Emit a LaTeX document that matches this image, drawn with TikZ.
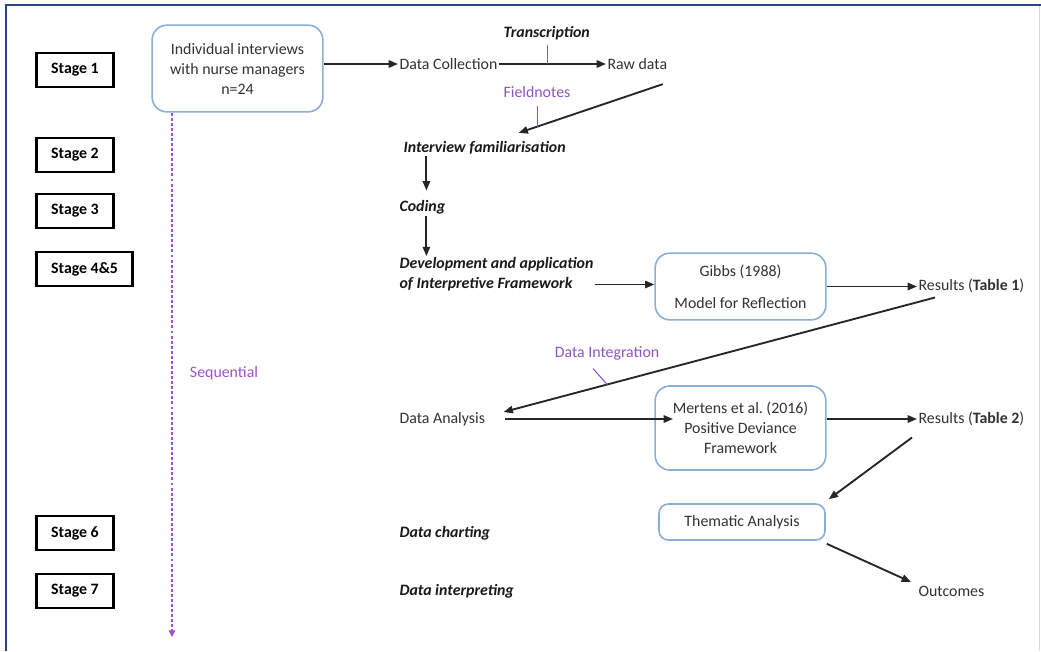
\documentclass[tikz,border=0pt]{standalone}
\usepackage{fontspec}
\setmainfont{Carlito}
\usetikzlibrary{arrows.meta}
\definecolor{framebl}{RGB}{47,69,130}
\definecolor{boxbl}{RGB}{138,174,214}
\definecolor{notepu}{RGB}{142,84,196}
\definecolor{seqpu}{RGB}{160,80,210}
\definecolor{txt}{RGB}{50,50,50}

\begin{document}
\begin{tikzpicture}[x=0.75pt,y=-0.75pt,
  >={Triangle[length=7pt,width=5.5pt]},
  every node/.style={font=\fontsize{11.9}{15}\selectfont,text=txt},
  stagebox/.style={draw=black,line width=2.2pt,anchor=west,inner xsep=11pt,minimum height=25.5pt,text=black,font=\fontsize{11.9}{15}\selectfont\bfseries},
  roundbox/.style={draw=boxbl,line width=1.2pt,rounded corners=11pt,align=center,minimum width=128pt},
  plain/.style={anchor=west,inner sep=1pt},
  act/.style={anchor=west,inner sep=1pt,align=left,text=black!90,font=\fontsize{11.9}{15}\selectfont\bfseries\itshape},
  note/.style={text=notepu},
  conn/.style={line width=1.4pt,black!85},
  tick/.style={notepu,line width=0.8pt}]
\useasboundingbox (0,0) rectangle (1041,651);
\draw[framebl,line width=2.2pt] (6,651) -- (6,5) -- (1041,5);
\draw[black!15,line width=0.6pt] (1039,6) -- (1039,651);
\node[stagebox] (s1) at (35,70) {Stage 1};
\node[stagebox] (s2) at (35,155) {Stage 2};
\node[stagebox] (s3) at (35,211) {Stage 3};
\node[stagebox] (s45) at (35,269) {Stage 4\&5};
\node[stagebox] (s6) at (35,533) {Stage 6};
\node[stagebox] (s7) at (35,591) {Stage 7};
\node[roundbox,minimum height=65pt] (intv) at (237.5,68.5) {Individual interviews\\with nurse managers\\n=24};
\coordinate (seqend) at (172,637);
\draw[seqpu,line width=1pt,dash pattern=on 2.2pt off 1.6pt,-{Triangle[length=5pt,width=5pt]}] (intv.south -| seqend) -- (seqend);
\node[text=seqpu] (seq) at (224,373) {Sequential};
\node[plain] (dc) at (398,64) {Data Collection};
\node[plain] (raw) at (606,64) {Raw data};
\node[act] (trans) at (502,33) {Transcription};
\node[note] (fnote) at (537,92) {Fieldnotes};
\node[act] (fam) at (402,148) {Interview familiarisation};
\node[act] (cod) at (398,207) {Coding};
\node[act] (dev) at (398,274.5) {Development and application\\of Interpretive Framework};
\node[roundbox,minimum height=50pt] (gibbs) at (740.5,286.5) {Gibbs (1988)\\[9pt]Model for Reflection};
\node[plain] (res1) at (917,286) {Results (\textbf{Table 1})};
\node[note] (dint) at (607,353) {Data Integration};
\node[plain] (da) at (398,419) {Data Analysis};
\node[roundbox,minimum height=63pt] (mert) at (740.5,428) {Mertens et al.\ (2016)\\Positive Deviance\\Framework};
\node[plain] (res2) at (917,419) {Results (\textbf{Table 2})};
\node[roundbox,rounded corners=7pt,minimum width=124.5pt,minimum height=27pt] (them) at (742,522) {Thematic Analysis};
\node[plain] (out) at (917,591) {Outcomes};
\node[act] (chart) at (398,533) {Data charting};
\node[act] (interp) at (398,591) {Data interpreting};
\draw[->,conn] (intv.east |- dc.west) -- (dc.west);
\draw[->,conn] (dc.east) -- coordinate[pos=.45] (tr) (raw.west);
\draw[tick] ([yshift=-3pt]trans.south -| tr) -- (tr);
\draw[->,conn] ([shift={(-6,13)}]raw.south east) -- coordinate[pos=.87] (fn) ([shift={(34,-7)}]fam.north);
\draw[tick] ([yshift=-3pt]fnote.south -| fn) -- (fn);
\draw[->,conn] ([xshift=3pt]cod.north |- fam.south) -- ([xshift=3pt,yshift=6pt]cod.north);
\draw[->,conn] ([xshift=3pt]cod.south) -- ([xshift=3pt]cod.south |- dev.north);
\draw[->,conn] ([yshift=-7.5pt]dev.east) -- ([yshift=-7.5pt]dev.east -| gibbs.west);
\draw[->,conn] (gibbs.east) -- (gibbs.east -| res1.west);
\draw[->,conn] ([shift={(18,3)}]res1.south west) -- coordinate[pos=.76] (di) ([shift={(17,-7)}]da.east);
\draw[tick] ([shift={(-14,4)}]dint.south) -- (di);
\draw[->,conn] ([xshift=14pt]da.east) -- ([xshift=14pt]da.east -| mert.west);
\draw[->,conn] (mert.east |- res2.west) -- (res2.west);
\draw[->,conn] ([shift={(-5,10)}]res2.south west) -- ([shift={(3,-4)}]them.north east);
\draw[->,conn] ([shift={(1,3)}]them.south east) -- ([shift={(-6,-9)}]out.west);
\end{tikzpicture}
\end{document}
